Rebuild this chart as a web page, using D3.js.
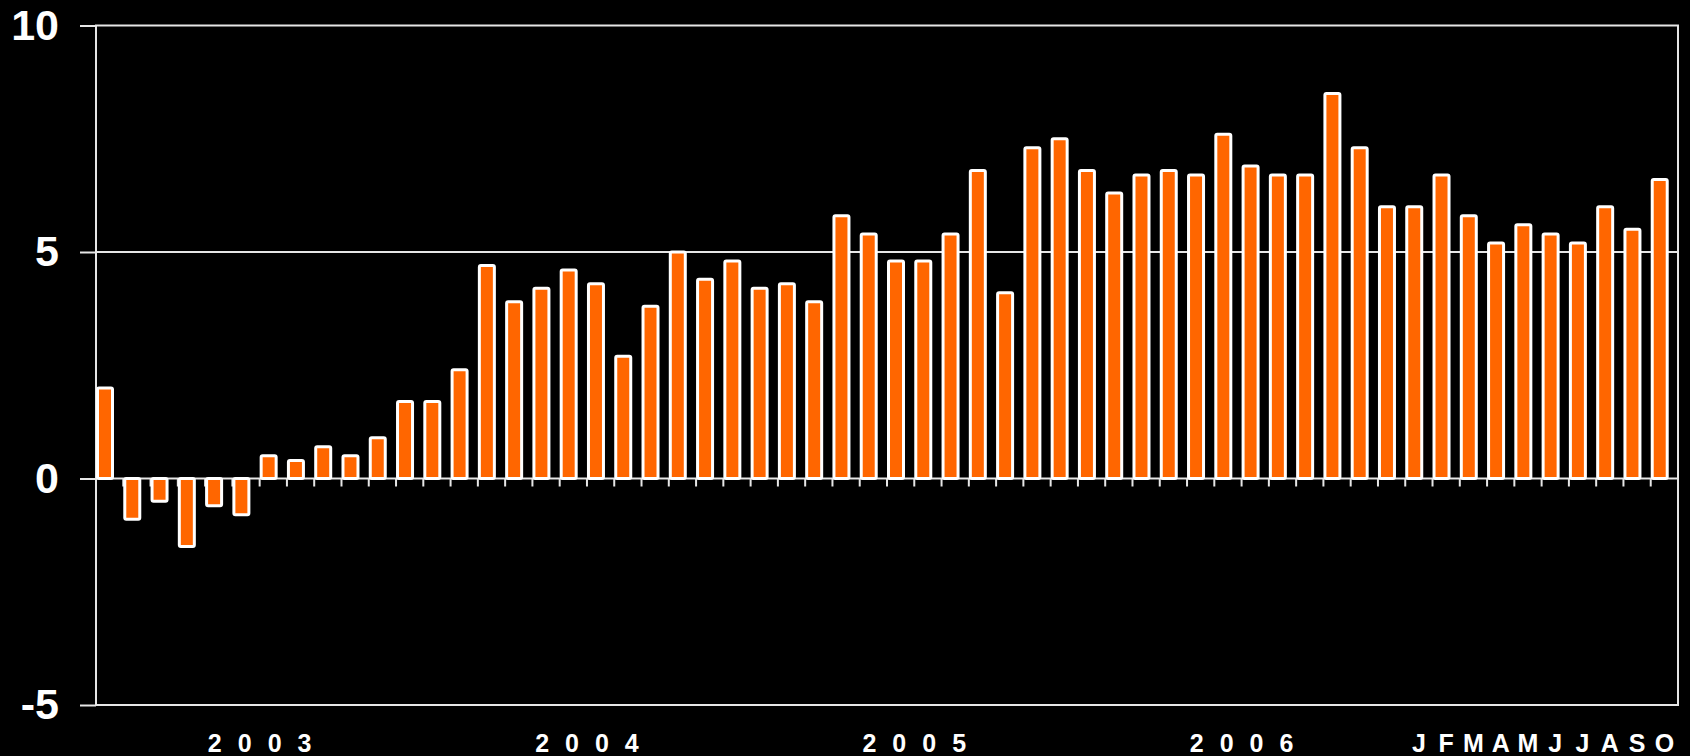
<!DOCTYPE html>
<html>
<head>
	<meta charset="utf-8">
	<title></title>
	<script src="https://d3js.org/d3.v7.min.js" charset="utf-8"></script>
	<style>
	body {
		margin: 0;
		background-color: #000;
	}
	text {
		font-family: "Liberation Sans", Arial, sans-serif;
		font-weight: bold;
		fill: #fff;
	}
	</style>
</head>
<body>
	<script>

		// monthly values, Jan 2003 .. Oct 2007
		var values = [
			2.0, -0.9, -0.5, -1.5, -0.6, -0.8, 0.5, 0.4, 0.7, 0.5, 0.9, 1.7,
			1.7, 2.4, 4.7, 3.9, 4.2, 4.6, 4.3, 2.7, 3.8, 5.0, 4.4, 4.8,
			4.2, 4.3, 3.9, 5.8, 5.4, 4.8, 4.8, 5.4, 6.8, 4.1, 7.3, 7.5,
			6.8, 6.3, 6.7, 6.8, 6.7, 7.6, 6.9, 6.7, 6.7, 8.5, 7.3, 6.0,
			6.0, 6.7, 5.8, 5.2, 5.6, 5.4, 5.2, 6.0, 5.5, 6.6
		];
		var years = ["2003", "2004", "2005", "2006"];
		var lastYearMonths = ["J", "F", "M", "A", "M", "J", "J", "A", "S", "O"];
		var yTicks = [-5, 0, 5, 10];

		var categories = values.map(function(d, i) { return i; });

		var width = 1690;
		var height = 756;
		var margin = {top: 25.5, right: 12, bottom: 51, left: 96};

		var svg = d3.select("body")
			.append("svg")
			.attr("width", width)
			.attr("height", height);

		var x = d3.scaleBand()
			.domain(categories)
			.range([margin.left, width - margin.right])
			.padding(0);

		var y = d3.scaleLinear()
			.domain([-5, 10])
			.range([height - margin.bottom, margin.top]);

		var lineColor = "#e6e6e6";

		// gridlines at 0 and 5, plus the frame
		svg.append("g")
			.selectAll("line")
			.data([0, 5])
			.enter()
			.append("line")
			.attr("x1", margin.left)
			.attr("x2", width - margin.right)
			.attr("y1", d => y(d))
			.attr("y2", d => y(d))
			.attr("stroke", lineColor)
			.attr("stroke-width", 2);

		svg.append("rect")
			.attr("x", margin.left)
			.attr("y", y(10))
			.attr("width", width - margin.right - margin.left)
			.attr("height", y(-5) - y(10))
			.attr("fill", "none")
			.attr("stroke", lineColor)
			.attr("stroke-width", 2);

		// y axis
		var yAxis = svg.append("g")
			.attr("transform", "translate(" + margin.left + ",0)")
			.call(d3.axisLeft(y).tickValues(yTicks).tickSize(16).tickPadding(21).tickFormat(d => String(d)));
		yAxis.select(".domain").remove();
		yAxis.selectAll("line").attr("stroke", lineColor).attr("stroke-width", 2);
		yAxis.selectAll("text")
			.attr("fill", "#fff")
			.style("font-family", "'Liberation Sans', Arial, sans-serif")
			.style("font-weight", "bold")
			.style("font-size", "43px");

		// small ticks under the zero line at each month boundary
		var bounds = categories.map(d => x(d)).concat([x.range()[1]]);
		svg.append("g")
			.selectAll("line")
			.data(bounds)
			.enter()
			.append("line")
			.attr("x1", d => d)
			.attr("x2", d => d)
			.attr("y1", y(0))
			.attr("y2", y(0) + 8)
			.attr("stroke", lineColor)
			.attr("stroke-width", 2);

		// bars
		var barW = x.bandwidth() * 0.55;
		svg.append("g")
			.selectAll("rect")
			.data(values)
			.enter()
			.append("rect")
			.attr("x", (d, i) => x(i) + 1.5)
			.attr("y", d => y(Math.max(0, d)))
			.attr("width", barW)
			.attr("height", d => Math.abs(y(d) - y(0)))
			.attr("rx", 1.5)
			.attr("fill", "#ff6600")
			.attr("stroke", "#fff")
			.attr("stroke-width", 3);

		// year labels, centred under each block of 12 months
		var spacing = 16;
		svg.append("g")
			.selectAll("text")
			.data(years)
			.enter()
			.append("text")
			.attr("x", (d, i) => (x(i * 12) + x(i * 12 + 11) + x.bandwidth()) / 2 + spacing / 2)
			.attr("y", 752)
			.attr("text-anchor", "middle")
			.style("font-size", "25px")
			.style("letter-spacing", spacing + "px")
			.text(d => d);

		// month initials for the last year
		svg.append("g")
			.selectAll("text")
			.data(lastYearMonths)
			.enter()
			.append("text")
			.attr("x", (d, i) => x(48 + i) + x.bandwidth() / 2)
			.attr("y", 752)
			.attr("text-anchor", "middle")
			.style("font-size", "25px")
			.text(d => d);

	</script>
</body>
</html>
